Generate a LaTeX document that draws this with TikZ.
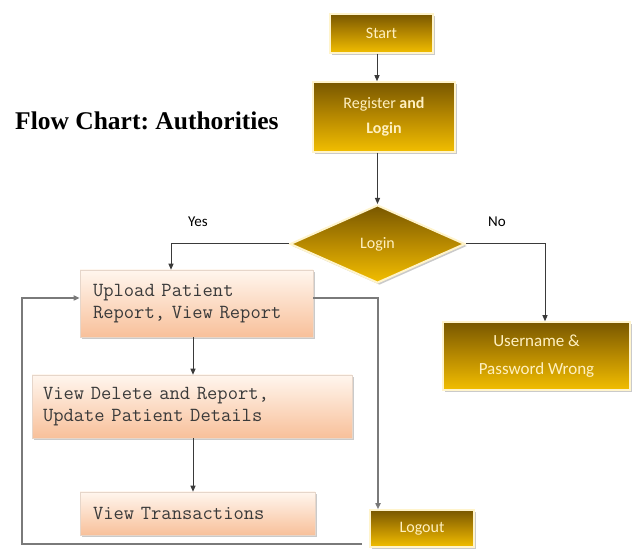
\documentclass[tikz,border=0pt]{standalone}
\usepackage{fontspec}
\setmainfont{Liberation Serif}
\newfontfamily\calib{Carlito}
\usetikzlibrary{shapes.geometric,shadows,arrows.meta}

\definecolor{goldtop}{HTML}{785700}
\definecolor{goldmid}{HTML}{B88A00}
\definecolor{goldbot}{HTML}{F2BE00}
\definecolor{goldtext}{HTML}{FFF0C0}
\definecolor{goldedge}{HTML}{FFF4CC}
\definecolor{peachtop}{HTML}{FFF6EE}
\definecolor{peachbot}{HTML}{F8C09A}
\definecolor{peachedge}{HTML}{E6D6CA}
\definecolor{boxtext}{HTML}{3A3A3A}
\definecolor{linegray}{HTML}{3A3A3A}
\definecolor{loopgray}{HTML}{7A7A7A}

\tikzset{
  softshadow/.style={drop shadow={shadow xshift=2pt, shadow yshift=-2pt, opacity=0.35, fill=black!60}},
  goldbox/.style={rectangle, top color=goldtop, bottom color=goldbot, middle color=goldmid,
    draw=goldedge, line width=1.5pt, text=goldtext, align=center, inner sep=0pt, softshadow},
  golddiamond/.style={diamond, top color=goldtop, bottom color=goldbot, middle color=goldmid,
    draw=goldedge, line width=2pt, text=goldtext, inner sep=0pt, softshadow},
  peachbox/.style={rectangle, top color=peachtop, bottom color=peachbot, draw=peachedge,
    line width=0.6pt, text=boxtext, align=left, inner ysep=0pt,
    font=\ttfamily\fontsize{20}{22}\selectfont, softshadow},
  arr/.style={draw=linegray, line width=1pt, -{Triangle[length=6pt,width=5pt]}},
  looparr/.style={draw=loopgray, line width=1.6pt, -{Triangle[length=6pt,width=5pt,fill=linegray]}},
  lbl/.style={font=\calib\fontsize{15}{18}\selectfont, text=black},
}

\begin{document}
\begin{tikzpicture}[x=1pt,y=-1pt]
\useasboundingbox (0,0) rectangle (633,553);

% title
\node[anchor=base west, inner sep=0pt, font=\frenchspacing\bfseries\fontsize{25.5}{30}\selectfont] (title)
  at (15,130) {Flow Chart: Authorities};

% gold nodes
\node[goldbox, minimum width=103pt, minimum height=39pt, font=\calib\fontsize{16}{20}\selectfont]
  (start) at (381.5,33.5) {Start};
\node[goldbox, minimum width=142pt, minimum height=70pt, font=\calib\fontsize{16}{25}\selectfont]
  (reg) at (384,117) {Register \textbf{and}\\\textbf{Login}};
\node[golddiamond, minimum width=175pt, minimum height=78pt, font=\calib\fontsize{16}{20}\selectfont]
  (login) at (377.5,244) {Login};
\node[goldbox, minimum width=187pt, minimum height=68pt, font=\calib\fontsize{17}{28}\selectfont]
  (wrong) at (536.5,356) {Username \&\\Password Wrong};
\node[goldbox, minimum width=104pt, minimum height=37pt, font=\calib\fontsize{16}{20}\selectfont]
  (logout) at (422,528.5) {Logout};

% peach process boxes
\node[peachbox, minimum height=67pt, text width=207pt, inner xsep=13pt]
  (upload) at (196.5,303.5) {Upload Patient\\Report, View Report};
\node[peachbox, minimum height=63pt, text width=298pt, inner xsep=11pt]
  (viewdel) at (192,406.5) {View Delete and Report,\\Update Patient Details};
\node[peachbox, minimum height=43pt, text width=209pt, inner xsep=13pt]
  (viewtx) at (197.5,513.5) {View Transactions};

% branch labels
\node[lbl] (yes) at (198,222) {Yes};
\node[lbl] (no) at (497,222) {No};

% main flow
\draw[arr] ([xshift=-4.5pt]start.south) -- ([xshift=-4.5pt]start.south |- reg.north);
\draw[arr] (login.north |- reg.south) -- (login.north);
\draw[arr] (login.west) -| ([xshift=-25.5pt]upload.north);
\draw[arr] (login.east) -| ([xshift=8.5pt]wrong.north);
\draw[arr] ([xshift=-3.5pt]upload.south) -- ([xshift=-3.5pt]upload.south |- viewdel.north);
\draw[arr] ([xshift=-4.5pt]viewtx.north |- viewdel.south) -- ([xshift=-4.5pt]viewtx.north);

% loops
\draw[looparr] ([yshift=5.5pt]upload.east) -| ([xshift=-44pt]logout.north);
\coordinate (loopstart) at (362,544);
\coordinate (loopcorner) at (22,544);
\draw[looparr] (loopstart) -- (loopcorner) |- ([yshift=5.5pt]upload.west);
\end{tikzpicture}
\end{document}
